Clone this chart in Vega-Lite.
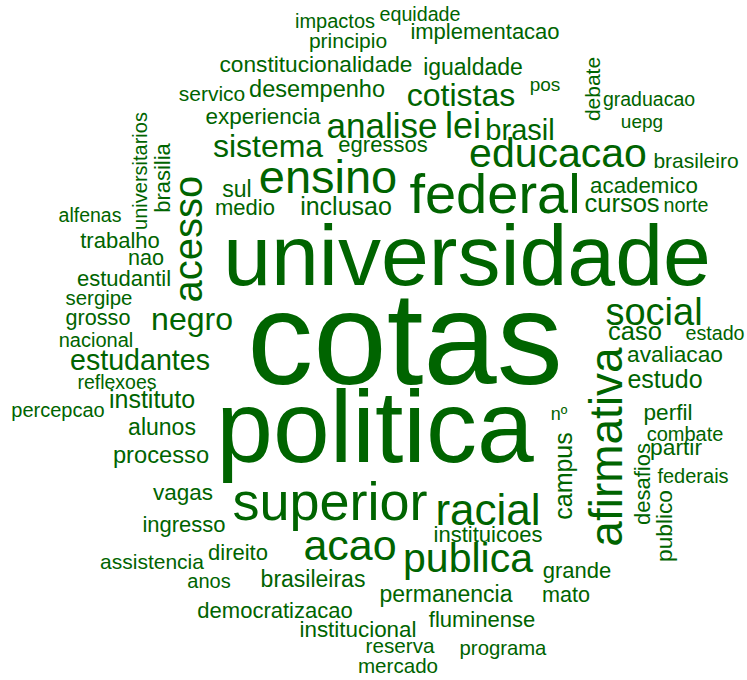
{
  "$schema": "https://vega.github.io/schema/vega-lite/v6.json",
  "width": 747,
  "height": 680,
  "autosize": "none",
  "padding": 0,
  "background": "white",
  "config": {"view": {"stroke": null}},
  "data": {"values": [
    {"w": "cotas", "x": 405, "y": 384, "freq": 132, "o": "h"},
    {"w": "universidade", "x": 467, "y": 285, "freq": 86, "o": "h"},
    {"w": "politica", "x": 375, "y": 462, "freq": 102, "o": "h"},
    {"w": "federal", "x": 495, "y": 213, "freq": 56, "o": "h"},
    {"w": "educacao", "x": 558, "y": 167, "freq": 41, "o": "h"},
    {"w": "ensino", "x": 328, "y": 193, "freq": 47, "o": "h"},
    {"w": "superior", "x": 330, "y": 520, "freq": 54, "o": "h"},
    {"w": "racial", "x": 488, "y": 525, "freq": 44, "o": "h"},
    {"w": "acao", "x": 350, "y": 560, "freq": 43, "o": "h"},
    {"w": "publica", "x": 468, "y": 572, "freq": 41, "o": "h"},
    {"w": "afirmativa", "x": 622, "y": 447, "freq": 46, "o": "v"},
    {"w": "acesso", "x": 202, "y": 239, "freq": 40, "o": "v"},
    {"w": "social", "x": 654, "y": 325, "freq": 38, "o": "h"},
    {"w": "cotistas", "x": 461, "y": 106, "freq": 32, "o": "h"},
    {"w": "lei", "x": 463, "y": 138, "freq": 36, "o": "h"},
    {"w": "analise", "x": 382, "y": 138, "freq": 35, "o": "h"},
    {"w": "brasil", "x": 520, "y": 140, "freq": 29, "o": "h"},
    {"w": "sistema", "x": 268, "y": 157, "freq": 32, "o": "h"},
    {"w": "negro", "x": 192, "y": 330, "freq": 32, "o": "h"},
    {"w": "estudantes", "x": 140, "y": 370, "freq": 28.6, "o": "h"},
    {"w": "instituto", "x": 152, "y": 408, "freq": 25, "o": "h"},
    {"w": "alunos", "x": 162, "y": 435, "freq": 23, "o": "h"},
    {"w": "processo", "x": 161, "y": 463, "freq": 23.7, "o": "h"},
    {"w": "vagas", "x": 183, "y": 500, "freq": 22.5, "o": "h"},
    {"w": "ingresso", "x": 184, "y": 532, "freq": 22, "o": "h"},
    {"w": "direito", "x": 238, "y": 560, "freq": 22, "o": "h"},
    {"w": "assistencia", "x": 152, "y": 569, "freq": 21, "o": "h"},
    {"w": "anos", "x": 209, "y": 588, "freq": 20, "o": "h"},
    {"w": "brasileiras", "x": 313, "y": 587, "freq": 23, "o": "h"},
    {"w": "democratizacao", "x": 275, "y": 618, "freq": 22, "o": "h"},
    {"w": "institucional", "x": 358, "y": 637, "freq": 22.4, "o": "h"},
    {"w": "reserva", "x": 400, "y": 653, "freq": 20.7, "o": "h"},
    {"w": "mercado", "x": 398, "y": 673, "freq": 20.6, "o": "h"},
    {"w": "programa", "x": 503, "y": 655, "freq": 20.3, "o": "h"},
    {"w": "fluminense", "x": 482, "y": 627, "freq": 22, "o": "h"},
    {"w": "permanencia", "x": 446, "y": 602, "freq": 23, "o": "h"},
    {"w": "mato", "x": 566, "y": 602, "freq": 21.6, "o": "h"},
    {"w": "grande", "x": 577, "y": 578, "freq": 22, "o": "h"},
    {"w": "instituicoes", "x": 488, "y": 542, "freq": 22, "o": "h"},
    {"w": "campus", "x": 572, "y": 476, "freq": 25, "o": "v"},
    {"w": "nº", "x": 559, "y": 420, "freq": 18, "o": "h"},
    {"w": "desafios", "x": 650, "y": 484, "freq": 22, "o": "v"},
    {"w": "publico", "x": 672, "y": 526, "freq": 22.7, "o": "v"},
    {"w": "federais", "x": 693, "y": 483, "freq": 20, "o": "h"},
    {"w": "partir", "x": 676, "y": 455, "freq": 22.8, "o": "h"},
    {"w": "combate", "x": 685, "y": 441, "freq": 20, "o": "h"},
    {"w": "perfil", "x": 668, "y": 420, "freq": 22.6, "o": "h"},
    {"w": "estudo", "x": 665, "y": 388, "freq": 25, "o": "h"},
    {"w": "avaliacao", "x": 675, "y": 362, "freq": 22.7, "o": "h"},
    {"w": "caso", "x": 635, "y": 340, "freq": 25.5, "o": "h"},
    {"w": "estado", "x": 715, "y": 340, "freq": 19.7, "o": "h"},
    {"w": "brasileiro", "x": 696, "y": 168, "freq": 21, "o": "h"},
    {"w": "academico", "x": 644, "y": 193, "freq": 22.3, "o": "h"},
    {"w": "cursos", "x": 622, "y": 212, "freq": 25.5, "o": "h"},
    {"w": "norte", "x": 686, "y": 212, "freq": 19.7, "o": "h"},
    {"w": "uepg", "x": 642, "y": 128, "freq": 19, "o": "h"},
    {"w": "graduacao", "x": 649, "y": 106, "freq": 19.5, "o": "h"},
    {"w": "debate", "x": 600, "y": 89, "freq": 21, "o": "v"},
    {"w": "pos", "x": 545, "y": 91, "freq": 19, "o": "h"},
    {"w": "igualdade", "x": 473, "y": 75, "freq": 23, "o": "h"},
    {"w": "implementacao", "x": 485, "y": 39, "freq": 22, "o": "h"},
    {"w": "equidade", "x": 420, "y": 21, "freq": 19.7, "o": "h"},
    {"w": "impactos", "x": 335, "y": 28, "freq": 20, "o": "h"},
    {"w": "principio", "x": 348, "y": 48, "freq": 21, "o": "h"},
    {"w": "constitucionalidade", "x": 316, "y": 72, "freq": 22.7, "o": "h"},
    {"w": "servico", "x": 212, "y": 101, "freq": 21, "o": "h"},
    {"w": "desempenho", "x": 317, "y": 97, "freq": 23.5, "o": "h"},
    {"w": "experiencia", "x": 263, "y": 124, "freq": 22.5, "o": "h"},
    {"w": "egressos", "x": 383, "y": 152, "freq": 22, "o": "h"},
    {"w": "sul", "x": 237, "y": 197, "freq": 23, "o": "h"},
    {"w": "medio", "x": 245, "y": 215, "freq": 22, "o": "h"},
    {"w": "inclusao", "x": 346, "y": 215, "freq": 25, "o": "h"},
    {"w": "universitarios", "x": 147, "y": 171, "freq": 20, "o": "v"},
    {"w": "brasilia", "x": 170, "y": 178, "freq": 22, "o": "v"},
    {"w": "alfenas", "x": 90, "y": 222, "freq": 19.5, "o": "h"},
    {"w": "trabalho", "x": 120, "y": 248, "freq": 22, "o": "h"},
    {"w": "nao", "x": 146, "y": 265, "freq": 21.6, "o": "h"},
    {"w": "estudantil", "x": 124, "y": 286, "freq": 22, "o": "h"},
    {"w": "sergipe", "x": 99, "y": 305, "freq": 20.4, "o": "h"},
    {"w": "grosso", "x": 98, "y": 325, "freq": 21.6, "o": "h"},
    {"w": "nacional", "x": 96, "y": 347, "freq": 20, "o": "h"},
    {"w": "reflexoes", "x": 117, "y": 389, "freq": 19.5, "o": "h"},
    {"w": "percepcao", "x": 58, "y": 417, "freq": 20, "o": "h"}
  ]},
  "mark": {"type": "text", "font": "Liberation Sans", "align": "center", "baseline": "alphabetic", "color": "#006400"},
  "encoding": {
    "x": {"field": "x", "type": "quantitative", "scale": {"domain": [0, 747], "range": [0, 747], "nice": false, "zero": false}, "axis": null},
    "y": {"field": "y", "type": "quantitative", "scale": {"domain": [0, 680], "range": [0, 680], "nice": false, "zero": false}, "axis": null},
    "size": {"field": "freq", "type": "quantitative", "scale": {"domain": [0, 132], "range": [0, 132], "zero": true}, "legend": null},
    "angle": {"field": "o", "type": "nominal", "scale": {"domain": ["h", "v"], "range": [0, 270]}, "legend": null},
    "text": {"field": "w", "type": "nominal"}
  }
}
